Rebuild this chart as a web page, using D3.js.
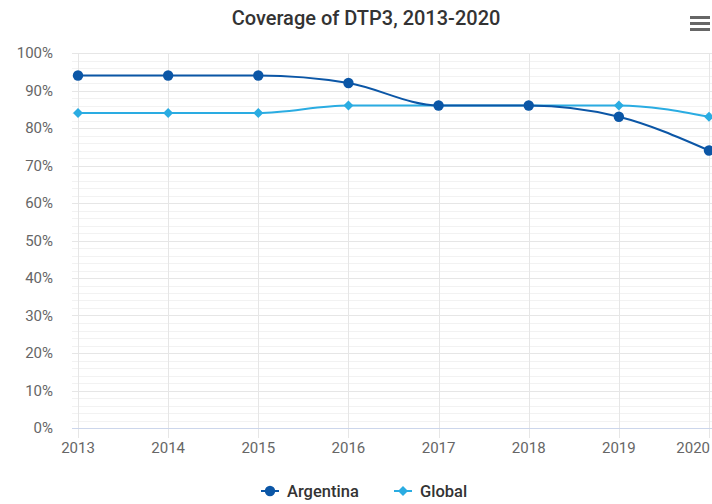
<!DOCTYPE html>
<html>
<head>
<meta charset="utf-8">
<script src="https://cdn.jsdelivr.net/npm/d3@7"></script>
<style>
  body { margin: 0; background: #fff; }
  text { font-family: Roboto, "Noto Sans", sans-serif; }
</style>
</head>
<body>
<div id="main-container"></div>
<script>
var width = 712,
    height = 504

var years = [2013, 2014, 2015, 2016, 2017, 2018, 2019, 2020]
var argentina = [94, 94, 94, 92, 86, 86, 83, 74]
var global = [84, 84, 84, 86, 86, 86, 86, 83]
var yTicks = [0, 10, 20, 30, 40, 50, 60, 70, 80, 90, 100]
var seriesNames = ["Argentina", "Global"]
var colors = ["#0b56a6", "#2aace2"]

var svg = d3.select("#main-container").append("svg")
  .attr("width", width)
  .attr("height", height)

var x = d3.scalePoint()
  .domain(years)
  .range([78, 709])

var y = d3.scaleLinear()
  .domain([0, 100])
  .range([428, 53])

// title
svg.append("text")
  .attr("x", 366)
  .attr("y", 25)
  .attr("text-anchor", "middle")
  .style("font-size", "20px")
  .style("font-weight", "500")
  .style("fill", "#333")
  .text("Coverage of DTP3, 2013-2020")

// menu icon
svg.selectAll(".menu")
  .data([0, 1, 2])
  .enter()
  .append("rect")
    .attr("x", 690)
    .attr("y", function(d){ return 16 + d * 6 })
    .attr("width", 20)
    .attr("height", 3)
    .attr("fill", "#666")

// minor grid every 2%
var minor = d3.range(0, 101, 2).filter(function(d){ return d % 10 != 0 })
svg.append("g").selectAll("line")
  .data(minor)
  .enter()
  .append("line")
    .attr("x1", 72).attr("x2", width)
    .attr("y1", function(d){ return Math.round(y(d)) + 0.5 })
    .attr("y2", function(d){ return Math.round(y(d)) + 0.5 })
    .attr("stroke", "#f2f2f2")

svg.append("g").selectAll("line")
  .data(yTicks.slice(1))
  .enter()
  .append("line")
    .attr("x1", 72).attr("x2", width)
    .attr("y1", function(d){ return Math.round(y(d)) + 0.5 })
    .attr("y2", function(d){ return Math.round(y(d)) + 0.5 })
    .attr("stroke", "#e6e6e6")

// vertical grid
svg.append("g").selectAll("line")
  .data(years)
  .enter()
  .append("line")
    .attr("x1", function(d){ return Math.round(x(d)) + 0.5 })
    .attr("x2", function(d){ return Math.round(x(d)) + 0.5 })
    .attr("y1", 53)
    .attr("y2", 438)
    .attr("stroke", "#e6e6e6")

// x axis line
svg.append("line")
  .attr("x1", 72).attr("x2", width)
  .attr("y1", 428.5).attr("y2", 428.5)
  .attr("stroke", "#ccd6eb")

// y labels
svg.append("g").selectAll("text")
  .data(yTicks)
  .enter()
  .append("text")
    .attr("x", 53)
    .attr("y", function(d){ return y(d) + 5 })
    .attr("text-anchor", "end")
    .style("font-size", "15px")
    .style("fill", "#666")
    .text(function(d){ return d + "%" })

// x labels (last one pushed left so it stays inside)
svg.append("g").selectAll("text")
  .data(years)
  .enter()
  .append("text")
    .attr("x", function(d, i){ return i == years.length - 1 ? 710 : x(d) })
    .attr("y", 453)
    .attr("text-anchor", function(d, i){ return i == years.length - 1 ? "end" : "middle" })
    .style("font-size", "15px")
    .style("fill", "#666")
    .text(function(d){ return d })

var line = d3.line()
  .x(function(d, i){ return x(years[i]) })
  .y(function(d){ return y(d) })
  .curve(d3.curveMonotoneX)

var diamond = d3.symbol().type(d3.symbolDiamond2).size(64)

function drawMarker(g, idx, cx, cy) {
  if (idx == 0) {
    g.append("circle").attr("cx", cx).attr("cy", cy).attr("r", 5.2).attr("fill", colors[0])
  } else {
    g.append("path").attr("d", diamond).attr("transform", "translate(" + cx + "," + cy + ")").attr("fill", colors[1])
  }
}

var allSeries = [global, argentina]
var order = [1, 0]
allSeries.forEach(function(s, k){
  var idx = order[k]
  var g = svg.append("g")
  g.append("path")
    .attr("d", line(s))
    .attr("fill", "none")
    .attr("stroke", colors[idx])
    .attr("stroke-width", 2)
  s.forEach(function(v, i){
    drawMarker(g, idx, x(years[i]), y(v))
  })
})

// legend
var legendX = [261, 394]
seriesNames.forEach(function(name, i){
  var g = svg.append("g")
  var lx = legendX[i]
  g.append("line")
    .attr("x1", lx).attr("x2", lx + 18)
    .attr("y1", 491).attr("y2", 491)
    .attr("stroke", colors[i])
    .attr("stroke-width", 2)
  drawMarker(g, i, lx + 9, 491)
  g.append("text")
    .attr("x", lx + 26)
    .attr("y", 497)
    .style("font-size", "16.5px")
    .style("font-weight", "500")
    .style("fill", "#333")
    .text(name)
})
</script>
</body>
</html>
